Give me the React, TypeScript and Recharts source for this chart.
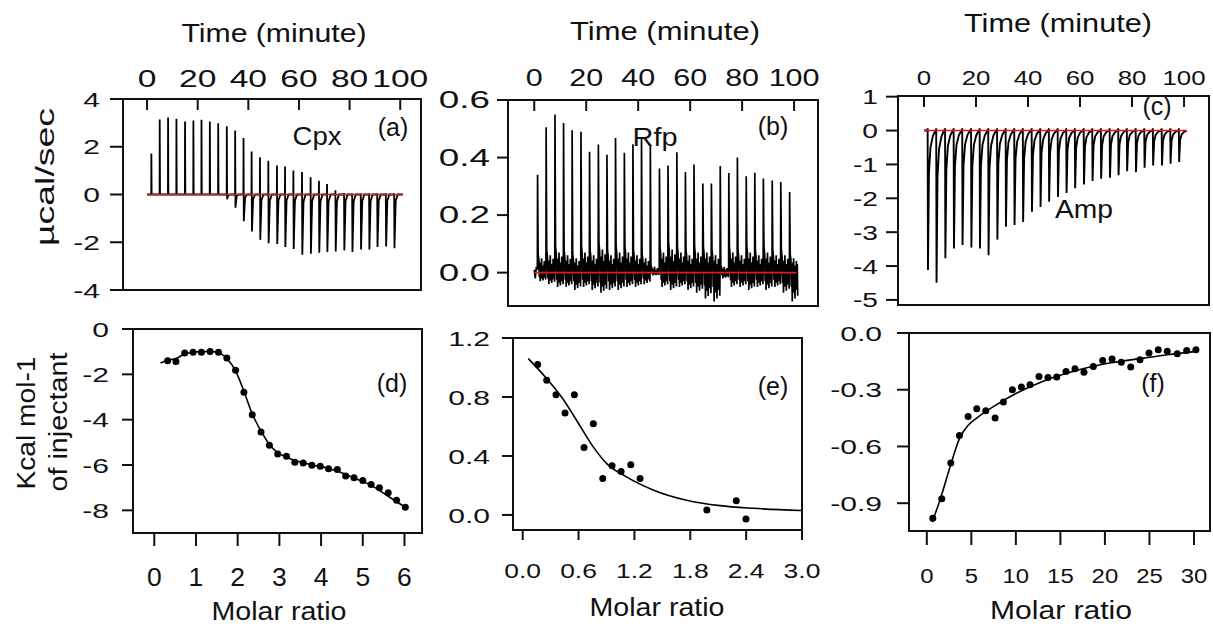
import React from "react";
import { ComposedChart, Line, Scatter, XAxis, YAxis, ReferenceArea } from "recharts";

type Pt = { x: number; y: number };

const timeTicks = [0, 20, 40, 60, 80, 100];

// (a) Cpx thermogram: injection times (min), upward and downward peak heights (µcal/sec)
const cpxTimes = [1.7, 5.0, 8.3, 11.6, 15.0, 18.3, 21.5, 24.8, 28.1, 31.5, 34.8, 38.1, 41.3, 44.6, 47.9, 51.3, 54.5, 57.8, 61.2, 64.6, 67.9, 71.1, 74.4, 77.8, 81.0, 84.4, 87.7, 90.9, 94.3, 97.6];
const cpxUp = [1.72, 3.14, 3.23, 3.17, 3.06, 3.1, 3.13, 3.06, 2.98, 2.86, 2.68, 2.37, 1.8, 1.56, 1.41, 1.21, 1.17, 1.0, 0.94, 0.72, 0.58, 0.44, 0.18, 0.06, 0.05, 0.05, 0.05, 0.05, 0.05, 0.05];
const cpxDown = [0, 0, 0, 0, 0, 0, 0, 0, 0, -0.2, -0.55, -1.12, -1.55, -1.9, -2.04, -2.07, -2.2, -2.28, -2.52, -2.48, -2.44, -2.41, -2.39, -2.34, -2.41, -2.3, -2.3, -2.2, -2.18, -2.25];

// (b) Rfp thermogram
const rfpTimes = [1.2, 4.5, 7.9, 11.2, 14.5, 17.9, 21.2, 24.6, 27.9, 31.2, 34.6, 37.9, 41.2, 44.6, 48.1, 51.4, 54.8, 58.1, 61.4, 64.8, 68.1, 71.5, 74.8, 78.1, 81.5, 84.8, 88.1, 91.5, 94.8, 98.2];
const rfpPeak = [0.34, 0.505, 0.55, 0.52, 0.495, 0.49, 0.42, 0.445, 0.41, 0.468, 0.417, 0.446, 0.47, 0.44, 0.362, 0.372, 0.418, 0.35, 0.376, 0.31, 0.31, 0.371, 0.346, 0.4, 0.335, 0.347, 0.327, 0.32, 0.315, 0.28];
const rfpNoiseHigh = [0.05, 0.06, 0.07, 0.06, 0.05, 0.07, 0.06, 0.08, 0.06, 0.07, 0.07, 0.06, 0.05, 0.02, 0.07, 0.08, 0.07, 0.06, 0.07, 0.07, 0.06, 0.02, 0.07, 0.06, 0.07, 0.06, 0.07, 0.06, 0.06, 0.05];
const rfpNoiseLow = [-0.03, -0.04, -0.05, -0.05, -0.06, -0.05, -0.06, -0.07, -0.06, -0.06, -0.05, -0.05, -0.04, -0.01, -0.05, -0.06, -0.05, -0.06, -0.07, -0.09, -0.1, -0.02, -0.05, -0.05, -0.06, -0.05, -0.06, -0.05, -0.07, -0.1];

// (c) Amp thermogram
const ampTimes = [1.4, 4.7, 8.1, 11.4, 14.7, 18.1, 21.4, 24.7, 28.1, 31.4, 34.7, 38.0, 41.4, 44.7, 48.0, 51.4, 54.7, 58.0, 61.4, 64.7, 68.0, 71.4, 74.7, 78.0, 81.4, 84.7, 88.0, 91.4, 94.7, 98.0];
const ampDown = [-4.12, -4.49, -3.77, -3.48, -3.38, -3.45, -3.48, -3.68, -3.22, -2.84, -2.79, -2.7, -2.4, -2.26, -2.1, -1.96, -1.84, -1.7, -1.59, -1.49, -1.42, -1.39, -1.32, -1.2, -1.23, -1.1, -1.03, -1.03, -0.98, -0.93];

// (d) Cpx isotherm
const cpxRatio = [0.32, 0.52, 0.73, 0.93, 1.13, 1.34, 1.54, 1.74, 1.95, 2.15, 2.35, 2.56, 2.76, 2.96, 3.17, 3.37, 3.57, 3.78, 3.98, 4.18, 4.39, 4.59, 4.79, 5.0, 5.2, 5.4, 5.61, 5.81, 6.02];
const cpxHeat = [-1.4, -1.43, -1.06, -1.03, -1.03, -0.99, -1.03, -1.28, -1.82, -2.79, -3.78, -4.54, -5.13, -5.51, -5.61, -5.88, -5.91, -6.01, -6.05, -6.17, -6.2, -6.49, -6.56, -6.68, -6.86, -7.0, -7.22, -7.56, -7.86];
const cpxFitX = [0.15, 0.32, 0.52, 0.73, 0.93, 1.13, 1.34, 1.54, 1.74, 1.95, 2.15, 2.35, 2.56, 2.76, 2.96, 3.17, 3.37, 3.57, 3.78, 3.98, 4.18, 4.39, 4.59, 4.79, 5.0, 5.2, 5.4, 5.61, 5.81, 6.02];
const cpxFitY = [-1.5, -1.38, -1.3, -1.1, -1.03, -1.0, -0.99, -1.05, -1.3, -1.85, -2.75, -3.75, -4.5, -5.1, -5.45, -5.65, -5.8, -5.9, -6.0, -6.07, -6.15, -6.27, -6.42, -6.57, -6.73, -6.9, -7.12, -7.38, -7.62, -7.86];

// (e) Rfp isotherm
const rfpRatio = [0.161, 0.258, 0.358, 0.455, 0.555, 0.659, 0.759, 0.86, 0.96, 1.057, 1.161, 1.261, 1.978, 2.294, 2.398];
const rfpHeat = [1.02, 0.914, 0.816, 0.692, 0.816, 0.458, 0.619, 0.247, 0.333, 0.295, 0.34, 0.247, 0.034, 0.097, -0.027];
const rfpFitX = [0.06, 0.25, 0.44, 0.6, 0.76, 0.9, 1.11, 1.4, 1.76, 2.12, 2.48, 2.99];
const rfpFitY = [1.06, 0.93, 0.78, 0.62, 0.46, 0.35, 0.26, 0.17, 0.1, 0.063, 0.045, 0.03];

// (f) Amp isotherm
const ampRatio = [0.67, 1.68, 2.69, 3.66, 4.64, 5.61, 6.62, 7.67, 8.6, 9.61, 10.62, 11.59, 12.6, 13.61, 14.59, 15.63, 16.64, 17.65, 18.7, 19.75, 20.8, 21.84, 22.9, 23.94, 24.95, 25.99, 27.0, 28.12, 29.18, 30.22];
const ampHeat = [-0.98, -0.877, -0.688, -0.542, -0.441, -0.401, -0.411, -0.45, -0.365, -0.3, -0.286, -0.274, -0.23, -0.235, -0.233, -0.203, -0.189, -0.208, -0.177, -0.145, -0.138, -0.155, -0.18, -0.141, -0.106, -0.088, -0.097, -0.11, -0.092, -0.088];
const ampFitX = [0.6, 1.5, 2.6, 3.7, 4.6, 5.6, 7.8, 10, 13, 16.8, 20.5, 24.3, 27, 30.3];
const ampFitY = [-1.0, -0.88, -0.71, -0.555, -0.49, -0.45, -0.38, -0.32, -0.256, -0.198, -0.159, -0.133, -0.115, -0.097];

const baseStart = 0;
const baseEnd = 101;

// peak shapes (time offset, fraction of peak) and the noise pattern of the Rfp trace
const ampShape = [[0.12, 1], [0.5, 0.3], [1.1, 0.12], [2.0, 0.04], [3.0, 0]];
const rfpWiggle = [0.9, -0.5, 0.4, -1, 0.7, -0.3, 1, -0.7, 0.5, -0.9, 0.3, -0.6, 0.8, -0.4, 0.6, -0.8];

const zip = (xs: number[], ys: number[]): Pt[] => xs.map((x, i) => ({ x, y: ys[i] }));
const baseLine: Pt[] = [{ x: baseStart, y: 0 }, { x: baseEnd, y: 0 }];

const cpxTrace: Pt[] = [{ x: baseStart, y: 0 }];
cpxTimes.forEach((t, i) => {
  cpxTrace.push(
    { x: t - 0.05, y: 0 },
    { x: t, y: cpxUp[i] },
    { x: t + 0.12, y: cpxDown[i] },
    { x: t + 0.6, y: cpxDown[i] * 0.12 },
    { x: t + 1.4, y: 0 }
  );
});
cpxTrace.push({ x: baseEnd, y: 0 });

const rfpTrace: Pt[] = [{ x: baseStart, y: 0.01 }, { x: 0.4, y: -0.02 }, { x: 0.8, y: 0.02 }];
rfpTimes.forEach((t, i) => {
  const next = i + 1 < rfpTimes.length ? rfpTimes[i + 1] : baseEnd + 0.5;
  rfpTrace.push({ x: t, y: 0.01 }, { x: t + 0.08, y: rfpPeak[i] }, { x: t + 0.3, y: rfpNoiseHigh[i] * 1.3 });
  const span = next - t - 0.5;
  rfpWiggle.forEach((w, k) => {
    rfpTrace.push({
      x: t + 0.4 + (span * (k + 1)) / rfpWiggle.length,
      y: w > 0 ? w * rfpNoiseHigh[i] : -w * rfpNoiseLow[i],
    });
  });
});

const ampTrace: Pt[] = [{ x: baseStart, y: 0 }];
ampTimes.forEach((t, i) => {
  ampTrace.push({ x: t - 0.05, y: 0 }, { x: t, y: 0.07 });
  ampShape.forEach(([dt, f]) => ampTrace.push({ x: t + dt, y: ampDown[i] * f }));
});
ampTrace.push({ x: baseEnd, y: 0 });

const FONT = "Liberation Sans, Arial, sans-serif";
const INK = "#111";

const makeTick =
  (size: number, sx: number, anchor: "end" | "middle", dyEm: number, fmt: (v: number) => string) =>
  (p: any) => (
    <text
      transform={`translate(${p.x},${p.y}) scale(${sx},1)`}
      textAnchor={anchor}
      dy={dyEm * size}
      fontSize={size}
      fontFamily={FONT}
      fill={INK}
    >
      {fmt(p.payload.value)}
    </text>
  );

const int = (v: number) => String(v);
const one = (v: number) => v.toFixed(1);
const tickLine = { stroke: INK, strokeWidth: 2 };

type ThermoProps = {
  left: number;
  width: number;
  height: number;
  yw: number;
  rw: number;
  th: number;
  mb: number;
  xDomain: [number, number];
  yDomain: [number, number];
  yTicks: number[];
  yFmt: (v: number) => string;
  topFont: [number, number];
  topMargin: number;
  leftFont: [number, number];
  leftSize: number;
  leftMargin: number;
  trace: Pt[];
  baseColor: string;
  traceWidth: number;
};

function ThermoPanel(p: ThermoProps) {
  return (
    <div style={{ position: "absolute", left: p.left, top: 0 }}>
      <ComposedChart width={p.width} height={p.height} margin={{ top: 0, right: 0, bottom: p.mb, left: 0 }}>
        <XAxis
          xAxisId="t"
          type="number"
          dataKey="x"
          orientation="top"
          domain={p.xDomain}
          ticks={timeTicks}
          interval={0}
          height={p.th}
          allowDataOverflow
          axisLine={false}
          tickLine={tickLine}
          tickSize={-11}
          tickMargin={p.topMargin}
          tick={makeTick(p.topFont[0], p.topFont[1], "middle", 0, int)}
        />
        <YAxis
          yAxisId="l"
          type="number"
          dataKey="y"
          domain={p.yDomain}
          ticks={p.yTicks}
          interval={0}
          width={p.yw}
          allowDataOverflow
          axisLine={false}
          tickLine={tickLine}
          tickSize={p.leftSize}
          tickMargin={p.leftMargin}
          tick={makeTick(p.leftFont[0], p.leftFont[1], "end", 0.36, p.yFmt)}
        />
        <YAxis
          yAxisId="r"
          orientation="right"
          type="number"
          domain={p.yDomain}
          ticks={p.yTicks}
          interval={0}
          width={p.rw}
          allowDataOverflow
          axisLine={false}
          tickLine={tickLine}
          tickSize={-8}
          tick={false}
        />
        <Line xAxisId="t" yAxisId="l" data={p.trace} dataKey="y" stroke="#000" strokeWidth={p.traceWidth} dot={false} isAnimationActive={false} />
        <Line xAxisId="t" yAxisId="l" data={baseLine} dataKey="y" stroke={p.baseColor} strokeWidth={1.6} dot={false} isAnimationActive={false} />
        <ReferenceArea
          xAxisId="t"
          yAxisId="l"
          x1={p.xDomain[0]}
          x2={p.xDomain[1]}
          y1={p.yDomain[0]}
          y2={p.yDomain[1]}
          fill="none"
          stroke={INK}
          strokeWidth={2}
        />
      </ComposedChart>
    </div>
  );
}

type IsoProps = {
  left: number;
  width: number;
  mt: number;
  mr: number;
  yw: number;
  xh: number;
  xDomain: [number, number];
  yDomain: [number, number];
  xTicks: number[];
  yTicks: number[];
  xFmt: (v: number) => string;
  yFmt: (v: number) => string;
  bottomFont: [number, number];
  bottomSize: number;
  bottomMargin: number;
  leftFont: [number, number];
  leftSize: number;
  leftMargin: number;
  points: Pt[];
  fit: Pt[];
};

const dot = (p: any) => <circle cx={p.cx} cy={p.cy} r={3.5} fill="#000" />;

function IsoPanel(p: IsoProps) {
  return (
    <div style={{ position: "absolute", left: p.left, top: 310 }}>
      <ComposedChart width={p.width} height={317} margin={{ top: p.mt, right: p.mr, bottom: 0, left: 0 }}>
        <XAxis
          type="number"
          dataKey="x"
          domain={p.xDomain}
          ticks={p.xTicks}
          interval={0}
          height={p.xh}
          allowDataOverflow
          axisLine={false}
          tickLine={tickLine}
          tickSize={p.bottomSize}
          tickMargin={p.bottomMargin}
          tick={makeTick(p.bottomFont[0], p.bottomFont[1], "middle", 0.72, p.xFmt)}
        />
        <YAxis
          type="number"
          dataKey="y"
          domain={p.yDomain}
          ticks={p.yTicks}
          interval={0}
          width={p.yw}
          allowDataOverflow
          axisLine={false}
          tickLine={tickLine}
          tickSize={p.leftSize}
          tickMargin={p.leftMargin}
          tick={makeTick(p.leftFont[0], p.leftFont[1], "end", 0.36, p.yFmt)}
        />
        <Line data={p.fit} dataKey="y" type="monotone" stroke="#000" strokeWidth={1.6} dot={false} isAnimationActive={false} />
        <Scatter data={p.points} dataKey="y" shape={dot} isAnimationActive={false} />
        <ReferenceArea
          x1={p.xDomain[0]}
          x2={p.xDomain[1]}
          y1={p.yDomain[0]}
          y2={p.yDomain[1]}
          fill="none"
          stroke={INK}
          strokeWidth={2}
        />
      </ComposedChart>
    </div>
  );
}

const txt = { fontFamily: FONT, fill: INK } as const;

// text stretched to a measured width, as in the reference
function Stretch(p: { x: number; y: number; w: number; size: number; children: string }) {
  return (
    <text x={p.x} y={p.y} fontSize={p.size} textAnchor="middle" textLength={p.w} lengthAdjust="spacingAndGlyphs" {...txt}>
      {p.children}
    </text>
  );
}

export default function App() {
  return (
    <div style={{ position: "absolute", left: 0, top: 0, width: 1213, height: 627, background: "#fff", overflow: "hidden" }}>
      <ThermoPanel
        left={0}
        width={440}
        height={310}
        yw={123}
        rw={19}
        th={99}
        mb={20}
        xDomain={[-9.5, 108.2]}
        yDomain={[-4, 4]}
        yTicks={[-4, -2, 0, 2, 4]}
        yFmt={int}
        topFont={[24, 1.4]}
        topMargin={23}
        leftFont={[21, 1.43]}
        leftSize={13}
        leftMargin={10}
        trace={cpxTrace}
        baseColor="#b8282a"
        traceWidth={1.8}
      />
      <ThermoPanel
        left={430}
        width={400}
        height={320}
        yw={78}
        rw={12}
        th={100}
        mb={14}
        xDomain={[-10.1, 109.2]}
        yDomain={[-0.116, 0.6]}
        yTicks={[0, 0.2, 0.4, 0.6]}
        yFmt={one}
        topFont={[24, 1.27]}
        topMargin={25}
        leftFont={[23, 1.6]}
        leftSize={11}
        leftMargin={7}
        trace={rfpTrace}
        baseColor="#e01b1b"
        traceWidth={1.7}
      />
      <ThermoPanel
        left={830}
        width={383}
        height={320}
        yw={68}
        rw={4}
        th={96}
        mb={15}
        xDomain={[-10, 109.6]}
        yDomain={[-5.15, 1.02]}
        yTicks={[-5, -4, -3, -2, -1, 0, 1]}
        yFmt={int}
        topFont={[21, 1.23]}
        topMargin={22}
        leftFont={[21, 1.34]}
        leftSize={12}
        leftMargin={8}
        trace={ampTrace}
        baseColor="#e01b1b"
        traceWidth={1.9}
      />
      <IsoPanel
        left={0}
        width={440}
        mt={19}
        mr={18}
        yw={133}
        xh={94}
        xDomain={[-0.51, 6.42]}
        yDomain={[-9, 0]}
        xTicks={[0, 1, 2, 3, 4, 5, 6]}
        yTicks={[-8, -6, -4, -2, 0]}
        xFmt={int}
        yFmt={int}
        bottomFont={[25, 1.06]}
        bottomSize={13}
        bottomMargin={22}
        leftFont={[21, 1.43]}
        leftSize={11}
        leftMargin={13}
        points={zip(cpxRatio, cpxHeat)}
        fit={zip(cpxFitX, cpxFitY)}
      />
      <IsoPanel
        left={440}
        width={380}
        mt={28}
        mr={18}
        yw={73}
        xh={97}
        xDomain={[-0.104, 3.0]}
        yDomain={[-0.102, 1.2]}
        xTicks={[0, 0.6, 1.2, 1.8, 2.4, 3.0]}
        yTicks={[0, 0.4, 0.8, 1.2]}
        xFmt={one}
        yFmt={one}
        bottomFont={[21, 1.26]}
        bottomSize={10}
        bottomMargin={23}
        leftFont={[21, 1.43]}
        leftSize={11}
        leftMargin={12}
        points={zip(rfpRatio, rfpHeat)}
        fit={zip(rfpFitX, rfpFitY)}
      />
      <IsoPanel
        left={820}
        width={393}
        mt={23}
        mr={3}
        yw={89}
        xh={96}
        xDomain={[-2.0, 31.8]}
        yDomain={[-1.047, 0]}
        xTicks={[0, 5, 10, 15, 20, 25, 30]}
        yTicks={[-0.9, -0.6, -0.3, 0]}
        xFmt={int}
        yFmt={one}
        bottomFont={[21, 1.14]}
        bottomSize={14}
        bottomMargin={23}
        leftFont={[21, 1.43]}
        leftSize={12}
        leftMargin={15}
        points={zip(ampRatio, ampHeat)}
        fit={zip(ampFitX, ampFitY)}
      />
      <svg width={1213} height={627} style={{ position: "absolute", left: 0, top: 0, pointerEvents: "none" }}>
        <Stretch x={274} y={42} w={185} size={26}>Time (minute)</Stretch>
        <Stretch x={665} y={40} w={190} size={26}>Time (minute)</Stretch>
        <Stretch x={1058} y={32} w={188} size={26}>Time (minute)</Stretch>
        <Stretch x={279} y={620} w={135} size={26}>Molar ratio</Stretch>
        <Stretch x={657} y={616} w={135} size={26}>Molar ratio</Stretch>
        <Stretch x={1061} y={619} w={142} size={26}>Molar ratio</Stretch>
        <text {...txt} fontSize={26} textAnchor="middle" transform="translate(54,177) rotate(-90)" textLength={138} lengthAdjust="spacingAndGlyphs">
          µcal/sec
        </text>
        <text {...txt} fontSize={25} textAnchor="middle" transform="translate(35,423) rotate(-90)" textLength={133} lengthAdjust="spacingAndGlyphs">
          Kcal mol-1
        </text>
        <text {...txt} fontSize={25} textAnchor="middle" transform="translate(67,422) rotate(-90)" textLength={139} lengthAdjust="spacingAndGlyphs">
          of injectant
        </text>
        <Stretch x={317} y={145} w={49} size={26}>Cpx</Stretch>
        <Stretch x={655} y={146} w={45} size={26}>Rfp</Stretch>
        <Stretch x={1084} y={218} w={58} size={26}>Amp</Stretch>
        <g {...txt} fontSize={25} textAnchor="middle">
          <text x={393} y={136}>(a)</text>
          <text x={773} y={135}>(b)</text>
          <text x={1157} y={115}>(c)</text>
          <text x={392} y={392}>(d)</text>
          <text x={773} y={395}>(e)</text>
          <text x={1153} y={392}>(f)</text>
        </g>
      </svg>
    </div>
  );
}
